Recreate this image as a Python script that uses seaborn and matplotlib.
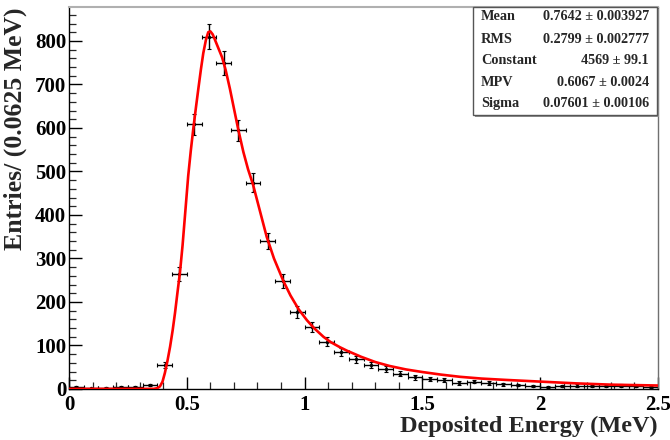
import numpy as np
import pandas as pd
import matplotlib
matplotlib.use("Agg")
import matplotlib.pyplot as plt
from matplotlib.ticker import MultipleLocator, FuncFormatter
from matplotlib.patches import Rectangle
import seaborn as sns

# ---- data ----
bin_centers = [0.03125 + 0.0625 * i for i in range(40)]
counts = [4, 2, 3, 4, 5, 9, 55, 264, 608, 810,
          750, 595, 474, 340, 249, 177, 142, 109, 84, 68,
          55, 46, 35, 27, 23, 20, 14, 17, 14, 11,
          9, 6, 5, 7, 8, 7, 6, 8, 6, 5]
bin_half_width = 0.03125

fit_x = [0.0, 0.36, 0.375, 0.386, 0.397, 0.407, 0.418, 0.429, 0.44, 0.45,
         0.46, 0.471, 0.482, 0.494, 0.506, 0.517, 0.528, 0.539, 0.549, 0.560,
         0.570, 0.581, 0.591, 0.60, 0.61, 0.62, 0.635, 0.65, 0.665, 0.683,
         0.70, 0.719, 0.74, 0.76, 0.781, 0.81, 0.839, 0.87, 0.91, 0.94,
         0.975, 1.01, 1.04, 1.08, 1.11, 1.15, 1.18, 1.24, 1.30, 1.36,
         1.43, 1.50, 1.58, 1.66, 1.75, 1.85, 2.0, 2.15, 2.3, 2.5]
fit_y = [0.3, 0.3, 2, 6, 17, 37, 65, 97, 135, 175,
         220, 268, 330, 410, 490, 548, 600, 648, 690, 735,
         772, 802, 820, 822, 815, 802, 782, 762, 733, 690,
         645, 595, 545, 505, 470, 410, 350, 300, 248, 215,
         183, 158, 140, 120, 108, 96, 88, 74, 62, 53,
         45, 39, 33, 28, 24, 21, 17, 13, 10, 8]

stat_names = ["Mean", "RMS", "Constant", "MPV", "Sigma"]
stat_values = ["0.7642 \u00b1 0.003927", "0.2799 \u00b1 0.002777",
               "4569 \u00b1 99.1", "0.6067 \u00b1 0.0024", "0.07601 \u00b1 0.00106"]

x_label = "Deposited Energy (MeV)"
y_label = "Entries/ (0.0625 MeV)"

# ---- style ----
sns.set_style("ticks")
plt.rcParams['font.family'] = ['Liberation Serif', 'DejaVu Serif']
plt.rcParams['font.weight'] = 'bold'

W, H = 670, 440
fig = plt.figure(figsize=(W / 100, H / 100), dpi=100)
fig.patch.set_facecolor("white")
ax = fig.add_axes([69 / W, 1 - 389 / H, (658 - 69) / W, (389 - 7) / H])

df = pd.DataFrame({"x": bin_centers, "y": counts})
df["err"] = np.sqrt(df["y"])
fit_df = pd.DataFrame({"x": fit_x, "y": fit_y})

ax.errorbar(df["x"], df["y"], xerr=bin_half_width, yerr=df["err"],
            fmt="none", ecolor="black", elinewidth=1.0, capsize=1.5,
            capthick=0.8, zorder=2)
sns.scatterplot(data=df, x="x", y="y", ax=ax, color="black", s=6,
                edgecolor="black", linewidth=0, zorder=3)
sns.lineplot(data=fit_df, x="x", y="y", ax=ax, color="#ff0000", lw=1.9,
             zorder=4, estimator=None, sort=False)

ax.set_xlim(0, 2.5)
ax.set_ylim(0, 878)
ax.xaxis.set_major_locator(MultipleLocator(0.5))
ax.xaxis.set_minor_locator(MultipleLocator(0.1))
ax.yaxis.set_major_locator(MultipleLocator(100))
ax.yaxis.set_minor_locator(MultipleLocator(20))
ax.xaxis.set_major_formatter(FuncFormatter(lambda v, p: f"{v:g}"))
ax.yaxis.set_major_formatter(FuncFormatter(lambda v, p: f"{v:g}"))
ax.tick_params(axis="both", which="major", direction="in", length=9,
               width=1.0, labelsize=15, pad=3, colors="black",
               top=False, right=False)
ax.tick_params(axis="both", which="minor", direction="in", length=5,
               width=0.9, top=False, right=False)
ax.tick_params(axis="y", which="major", pad=2)
ax.tick_params(axis="x", which="major", pad=4)
for lab in ax.get_xticklabels() + ax.get_yticklabels():
    lab.set_fontweight("bold")

ax.set_xlabel(x_label, fontsize=17.5, fontweight="bold", loc="right", labelpad=1)
ax.set_ylabel(y_label, fontsize=18.5, fontweight="bold", loc="top", labelpad=6)

for side in ["left", "bottom"]:
    ax.spines[side].set_color("black")
    ax.spines[side].set_linewidth(1.0)
ax.spines["top"].set_color("#b0b0b0")
ax.spines["top"].set_linewidth(1.5)
ax.spines["right"].set_color("#707070")
ax.spines["right"].set_linewidth(1.0)

# ---- stats box ----
bx0, bx1 = 473 / W, 657 / W
by0, by1 = 1 - 115 / H, 1 - 7 / H
fig.patches.append(Rectangle((bx0 + 2 / W, by0 - 2 / H), bx1 - bx0, by1 - by0,
                             transform=fig.transFigure, facecolor="#909090",
                             edgecolor="none", zorder=5))
fig.patches.append(Rectangle((bx0, by0), bx1 - bx0, by1 - by0,
                             transform=fig.transFigure, facecolor="white",
                             edgecolor="#555555", linewidth=1.0, zorder=6))
row_px = [17, 39.5, 61, 82, 103.5]
for name, val, yp in zip(stat_names, stat_values, row_px):
    fig.text(481 / W, 1 - yp / H, name, ha="left", va="center", fontsize=10.3,
             fontweight="bold", zorder=7)
    fig.text(649 / W, 1 - yp / H, val, ha="right", va="center", fontsize=10.2,
             fontweight="bold", zorder=7)

fig.savefig("out.png", dpi=100, facecolor="white")
